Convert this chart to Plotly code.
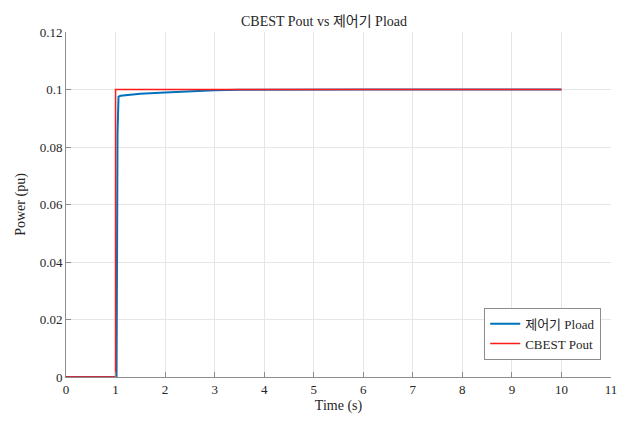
import plotly.graph_objs as go

# step reference (CBEST Pout)
t_ref = [0, 1.0, 1.0, 10]
p_ref = [0, 0, 0.1, 0.1]

# controller response (제어기 Pload)
t_ctl = [0, 1.02, 1.04, 1.06, 1.1, 1.2, 1.5, 2.0, 2.5, 3.0, 3.5, 4.0, 5.0, 6.0, 8.0, 10.0]
p_ctl = [0, 0, 0.085, 0.0975, 0.0978, 0.098, 0.0985, 0.0990, 0.0994, 0.0997, 0.0999,
         0.09995, 0.1, 0.1, 0.1, 0.1]

xname = 'Time (s)'
yname = 'Power (pu)'
title = 'CBEST Pout vs 제어기 Pload'
font = 'Liberation Serif, Times New Roman, Noto Sans CJK KR'

blue = go.Scatter(x=t_ctl, y=p_ctl, name='제어기 Pload', mode='lines',
                  line=dict(color='#0072BD', width=2))
red = go.Scatter(x=t_ref, y=p_ref, name='CBEST Pout', mode='lines',
                 line=dict(color='#FF1A1A', width=1.5))

axis_common = dict(showgrid=True, gridcolor='#E6E6E6', gridwidth=1,
                   showline=True, linecolor='#8C8C8C', linewidth=1,
                   ticks='inside', ticklen=5, tickcolor='#8C8C8C',
                   zeroline=False, mirror=False,
                   tickfont=dict(family=font, size=13, color='#262626'))

# page body has an 8px margin, so offsets are shifted by 8
layout = dict(
    width=632, height=426,
    margin=dict(l=54, r=29, t=24, b=57),
    paper_bgcolor='white', plot_bgcolor='white',
    font=dict(family=font, size=13, color='#262626'),
    title=dict(text=title, x=0.5, xanchor='center', y=0.97, yanchor='middle',
               font=dict(family=font, size=14, color='#262626')),
    xaxis=dict(title=dict(text=xname, font=dict(family=font, size=14), standoff=4),
               range=[0, 11], dtick=1, tickformat='d', **axis_common),
    yaxis=dict(title=dict(text=yname, font=dict(family=font, size=14), standoff=10),
               range=[0, 0.12], dtick=0.02, **axis_common),
    showlegend=True,
    legend=dict(x=0.982, y=0.05, xanchor='right', yanchor='bottom',
                bgcolor='white', bordercolor='#8C8C8C', borderwidth=1,
                font=dict(family=font, size=13, color='#262626'),
                tracegroupgap=0, itemwidth=30),
)

fig = go.Figure(data=[blue, red], layout=layout)
fig.write_html("out.html")
